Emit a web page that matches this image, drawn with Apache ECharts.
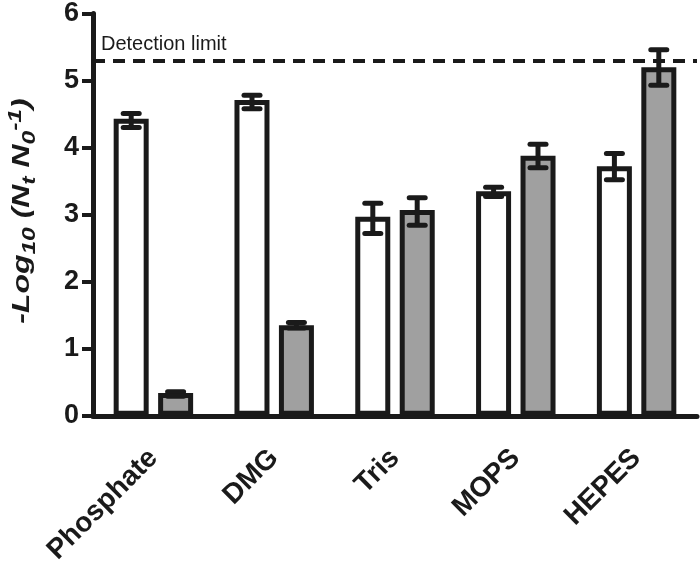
<!DOCTYPE html>
<html><head><meta charset="utf-8">
<script src="https://cdn.jsdelivr.net/npm/echarts@6/dist/echarts.min.js"></script>
<style>html,body{margin:0;padding:0;background:#fff}#c{width:700px;height:567px}</style>
</head><body><div id="c"></div>
<script>
const categories = ['Phosphate', 'DMG', 'Tris', 'MOPS', 'HEPES'];
const whiteVals = [4.43, 4.71, 2.97, 3.35, 3.72];
const whiteLow  = [4.30, 4.58, 2.72, 3.27, 3.52];
const whiteHigh = [4.51, 4.78, 3.17, 3.41, 3.91];
const greyVals  = [0.34, 1.35, 3.07, 3.88, 5.20];
const greyLow   = [0.29, 1.31, 2.84, 3.70, 4.93];
const greyHigh  = [0.36, 1.39, 3.25, 4.05, 5.46];
const detectionLimit = 5.3;
const detectionLabel = 'Detection limit';
const yTicks = [0, 1, 2, 3, 4, 5, 6];

const INK = '#1a1a1a';
const BAR_W = 35, HALF = 22.2;

function errSeries(lows, highs, off) {
  return {
    type: 'custom', z: 5,
    data: lows.map((l, i) => [i, l, highs[i]]),
    renderItem: function (params, api) {
      const i = api.value(0);
      const bot = api.coord([i, api.value(1)]);
      const top = api.coord([i, api.value(2)]);
      const x = top[0] + off, cw = 8;
      return {
        type: 'group',
        children: [
          {type: 'line', shape: {x1: x, y1: top[1], x2: x, y2: bot[1]}, style: {stroke: INK, lineWidth: 5}},
          {type: 'line', shape: {x1: x - cw, y1: top[1], x2: x + cw, y2: top[1]}, style: {stroke: INK, lineWidth: 5, lineCap: 'round'}},
          {type: 'line', shape: {x1: x - cw, y1: bot[1], x2: x + cw, y2: bot[1]}, style: {stroke: INK, lineWidth: 5, lineCap: 'round'}}
        ]
      };
    }
  };
}

const titleFont = {fontFamily: 'Liberation Sans', fontWeight: 'bold', fontStyle: 'italic', fill: INK};

const chart = echarts.init(document.getElementById('c'));
chart.setOption({
  animation: false,
  grid: {left: 93, right: 3, top: 13, bottom: 151},
  graphic: [{
    type: 'text', x: 23, y: 211, rotation: Math.PI / 2, scaleX: 1.45, scaleY: 1.05,
    style: Object.assign({
      text: '{m|-Log}{s|10}{m| (N}{s|t}{m| N}{s|0}{p|-1}{m|)}',
      align: 'center', verticalAlign: 'middle', fontSize: 22,
      rich: {
        m: Object.assign({}, titleFont, {fontSize: 22, lineHeight: 30, verticalAlign: 'middle'}),
        s: Object.assign({}, titleFont, {fontSize: 17, lineHeight: 30, verticalAlign: 'bottom'}),
        p: Object.assign({}, titleFont, {fontSize: 17, lineHeight: 30, verticalAlign: 'top'})
      }
    }, titleFont)
  }],
  xAxis: {
    type: 'category', data: categories,
    axisLine: {lineStyle: {color: INK, width: 5}},
    axisTick: {alignWithLabel: true, length: 13, lineStyle: {width: 4, color: INK}},
    axisLabel: {rotate: 45, margin: 38, color: INK, fontFamily: 'Liberation Sans', fontWeight: 'bold', fontSize: 28}
  },
  yAxis: {
    type: 'value', min: 0, max: 6, interval: 1,
    axisLine: {show: true, lineStyle: {color: INK, width: 5}},
    axisTick: {show: true, length: 11, lineStyle: {width: 4, color: INK}},
    splitLine: {show: false},
    axisLabel: {margin: 14, color: INK, fontFamily: 'Liberation Sans', fontWeight: 'bold', fontSize: 27,
      formatter: v => yTicks.includes(v) ? String(v) : ''}
  },
  series: [
    {
      type: 'bar', data: whiteVals, barWidth: BAR_W, barGap: '27%',
      itemStyle: {color: '#ffffff', borderColor: INK, borderWidth: 5},
      markLine: {
        silent: true, symbol: ['none', 'none'],
        lineStyle: {type: [12, 8], color: INK, width: 4},
        label: {show: true, position: 'insideStartTop', formatter: detectionLabel, color: INK,
          fontFamily: 'Liberation Sans', fontSize: 20, distance: [8, 6]},
        data: [{yAxis: detectionLimit}]
      }
    },
    {
      type: 'bar', data: greyVals, barWidth: BAR_W,
      itemStyle: {color: '#a0a0a0', borderColor: INK, borderWidth: 5}
    },
    errSeries(whiteLow, whiteHigh, -HALF),
    errSeries(greyLow, greyHigh, HALF)
  ]
});
</script></body></html>
